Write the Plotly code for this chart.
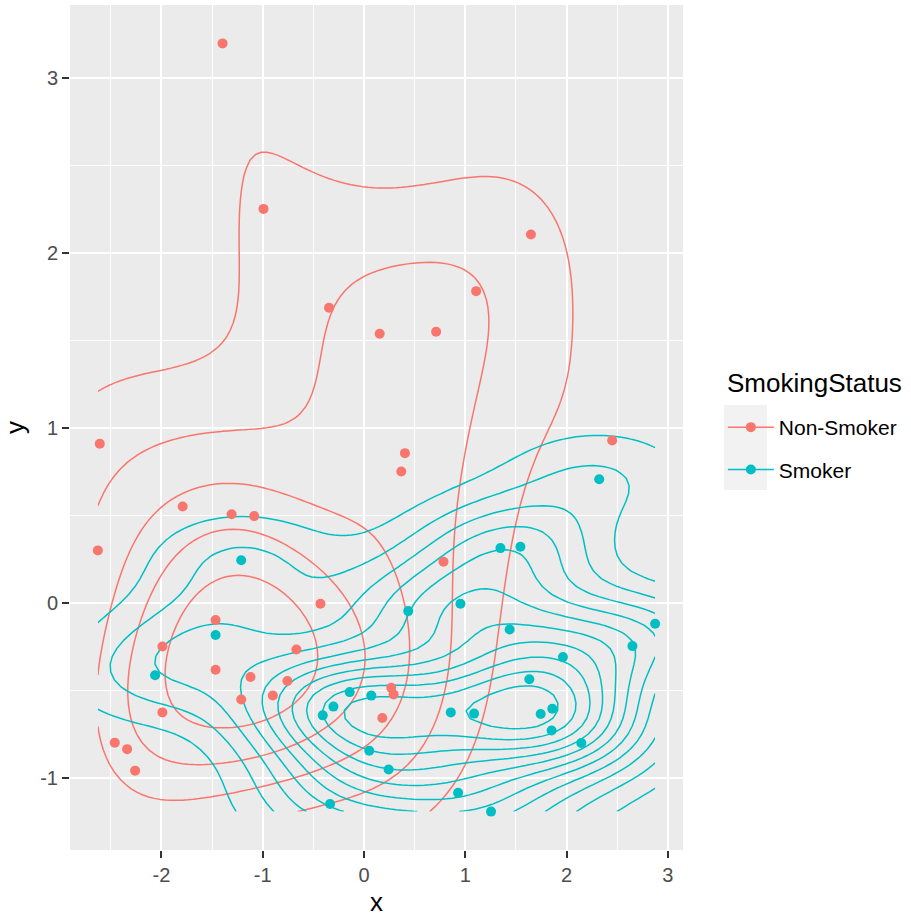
import numpy as np
import plotly.graph_objects as go

# Observations per group
nonsmoker_x = [-1.396, -0.992, -0.345, 0.155, 0.712, 1.648, 1.107, 0.404, 0.368, 2.450,
               0.785, -2.608, -2.627, -1.790, -1.307, -1.084, -0.430, -1.465, -1.990, -1.465,
               -0.667, -1.120, -0.756, -0.900, -1.212, -1.990, -2.460, -2.338, -2.259, 0.269,
               0.292, 0.181]
nonsmoker_y = [3.197, 2.251, 1.686, 1.537, 1.549, 2.105, 1.781, 0.855, 0.750, 0.927,
               0.234, 0.909, 0.299, 0.550, 0.506, 0.495, -0.006, -0.099, -0.250, -0.383,
               -0.267, -0.425, -0.448, -0.530, -0.553, -0.627, -0.800, -0.837, -0.960, -0.486,
               -0.524, -0.659]
smoker_x = [-1.212, 2.322, 1.347, 1.544, -1.465, -2.062, -0.407, -0.302, -0.141, 0.072,
            0.052, -0.335, 0.437, 0.952, 1.438, 0.857, 1.087, 1.632, 1.744, 1.859,
            1.852, 1.964, 2.145, 2.650, 2.874, 0.243, 0.929, 1.254]
smoker_y = [0.243, 0.706, 0.312, 0.320, -0.185, -0.415, -0.644, -0.594, -0.511, -0.531,
            -0.846, -1.151, -0.048, -0.006, -0.153, -0.627, -0.634, -0.438, -0.636, -0.606,
            -0.730, -0.311, -0.802, -0.248, -0.120, -0.953, -1.086, -1.194]

groups = ["Non-Smoker", "Smoker"]
group_colors = ["#F8766D", "#00BFC4"]
legend_title = "SmokingStatus"

x_ticks = [-2, -1, 0, 1, 2, 3]
y_ticks = [-1, 0, 1, 2, 3]

series = [(np.array(nonsmoker_x), np.array(nonsmoker_y)),
          (np.array(smoker_x), np.array(smoker_y))]

all_x = np.concatenate([s[0] for s in series])
all_y = np.concatenate([s[1] for s in series])


def bandwidth_nrd(v):
    q25, q75 = np.percentile(v, [25, 75])
    h = (q75 - q25) / 1.34
    return 4 * 1.06 * min(np.std(v, ddof=1), h) * len(v) ** (-0.2)


def dnorm(u):
    return np.exp(-0.5 * u * u) / np.sqrt(2 * np.pi)


def kde2d(x, y, gx, gy):
    hx = bandwidth_nrd(x) / 4
    hy = bandwidth_nrd(y) / 4
    ax = (gx[:, None] - x[None, :]) / hx
    ay = (gy[:, None] - y[None, :]) / hy
    z = dnorm(ax) @ dnorm(ay).T / (len(x) * hx * hy)
    return z.T  # rows follow y, columns follow x


def pretty_unit(lo, hi, n=10):
    cell = (hi - lo) / n
    U = 10 ** np.floor(np.log10(cell))
    unit = U
    if 2 * U - cell < 1.5 * (cell - unit):
        unit = 2 * U
    if 5 * U - cell < 2.75 * (cell - unit):
        unit = 5 * U
    if 10 * U - cell < 1.5 * (cell - unit):
        unit = 10 * U
    return unit


gx = np.linspace(all_x.min(), all_x.max(), 100)
gy = np.linspace(all_y.min(), all_y.max(), 100)
dens = [kde2d(sx, sy, gx, gy) for sx, sy in series]
zmin = min(d.min() for d in dens)
zmax = max(d.max() for d in dens)
step = pretty_unit(zmin, zmax)

fig = go.Figure()

for (sx, sy), d, name, col in zip(series, dens, groups, group_colors):
    fig.add_trace(go.Contour(
        x=gx, y=gy, z=d,
        contours=dict(coloring="lines", start=step, end=zmax, size=step, showlabels=False),
        colorscale=[[0, col], [1, col]],
        showscale=False,
        line=dict(width=1.5, smoothing=0),
        hoverinfo="skip",
        showlegend=False,
    ))

for (sx, sy), name, col in zip(series, groups, group_colors):
    fig.add_trace(go.Scatter(
        x=sx, y=sy, mode="markers", name=name,
        marker=dict(color=col, size=10, line=dict(width=0)),
        showlegend=False,
    ))

# legend keys: point over a line segment
for name, col in zip(groups, group_colors):
    fig.add_trace(go.Scatter(
        x=[None], y=[None], mode="lines+markers", name=name, legendgroup=name,
        line=dict(color=col, width=1.5),
        marker=dict(color=col, size=10),
    ))


def expand(lo, hi, f=0.05):
    w = hi - lo
    return [lo - f * w, hi + f * w]


axis_common = dict(
    showgrid=True, gridcolor="white", gridwidth=2,
    zeroline=False, showline=False,
    ticks="outside", ticklen=7, tickwidth=1.5, tickcolor="#333333",
    tickfont=dict(family="Liberation Sans, Arial", size=20, color="#4D4D4D"),
    minor=dict(showgrid=True, gridcolor="white", gridwidth=1, dtick=0.5, ticks=""),
)

fig.update_layout(
    width=911, height=917,
    margin=dict(l=70, r=228, t=5, b=67),
    paper_bgcolor="white",
    plot_bgcolor="#EBEBEB",
    font=dict(family="Liberation Sans, Arial", color="black"),
    xaxis=dict(
        range=expand(all_x.min(), all_x.max()),
        tickvals=x_ticks, ticktext=[str(v) for v in x_ticks],
        title=dict(text="x", font=dict(size=26), standoff=8),
        **axis_common,
    ),
    yaxis=dict(
        range=expand(all_y.min(), all_y.max()),
        tickvals=y_ticks, ticktext=[str(v) for v in y_ticks],
        title=dict(text="y", font=dict(size=26), standoff=8),
        **axis_common,
    ),
    legend=dict(
        font=dict(size=21),
        x=1.065, xanchor="left", y=(850 - 407) / 845, yanchor="top",
        itemwidth=46, traceorder="grouped", tracegroupgap=12,
        bgcolor="rgba(0,0,0,0)",
    ),
    annotations=[dict(text=legend_title, xref="paper", yref="paper",
                      x=(725 - 70) / 613, y=(850 - 383) / 845,
                      xanchor="left", yanchor="middle", showarrow=False,
                      font=dict(size=26, color="black"))],
    shapes=[dict(type="rect", xref="paper", yref="paper",
                 x0=(724 - 70) / 613, x1=(767 - 70) / 613,
                 y0=(850 - 490) / 845, y1=(850 - 405) / 845,
                 fillcolor="#F2F2F2", line=dict(width=0), layer="below")],
)

fig.write_html("out.html")
